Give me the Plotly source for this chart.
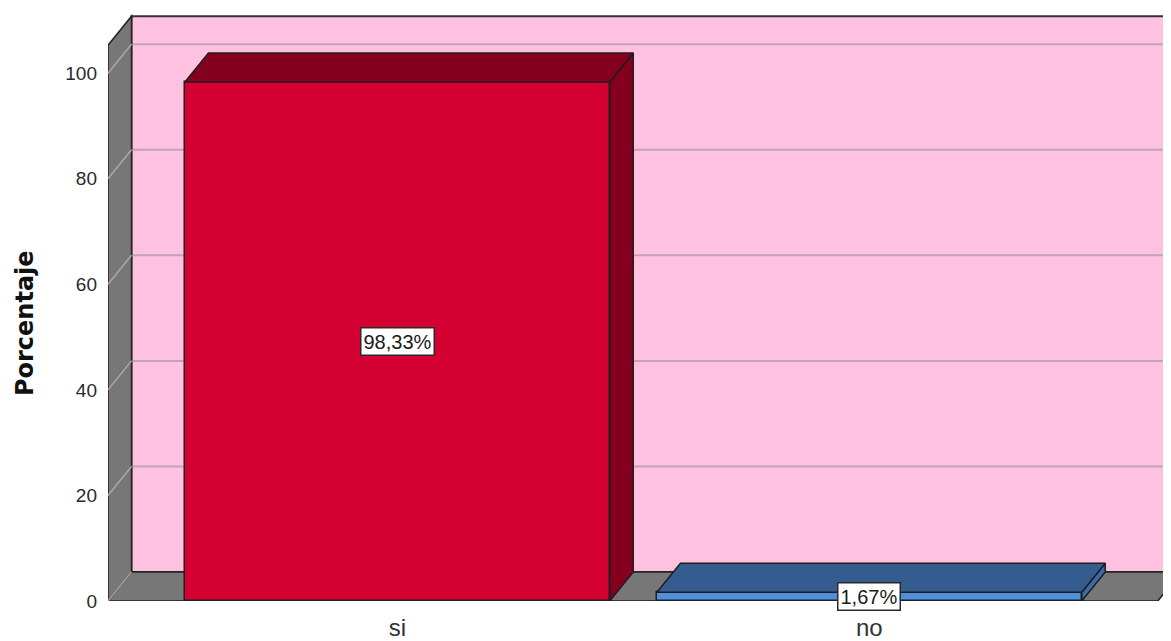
import plotly.graph_objects as go

# ---------------- data ----------------
categories = ["si", "no"]
percent = [98.33, 1.67]
labels = ["98,33%", "1,67%"]
y_ticks = [0, 20, 40, 60, 80, 100]

# ---------------- style / geometry constants ----------------
front_colors = ["#D50032", "#4E8FDE"]
top_colors = ["#85001F", "#345C8E"]
side_colors = ["#85001F", "#3C6BA8"]
edge = "#1E1E1E"
wall_gray = "#777777"
back_pink = "#FFC1E0"
grid_col = "rgba(140,140,150,0.55)"

BAR_W = 0.9
X_LEFT = -0.613      # front-left corner of the box (axis units)
X_RIGHT = 1.611      # front-right corner of the floor
DX = 0.0498          # depth offset, x units
DY = 5.49            # depth offset, y units
Y_TOP = 105.3        # top of the value axis
X_RANGE = [-0.613, 1.656]
Y_RANGE = [0, 111.97]

xs = list(range(len(categories)))

fig = go.Figure()

shapes = []
# back wall
shapes.append(dict(type="rect", xref="x", yref="y", layer="below",
                   x0=X_LEFT + DX, x1=X_RIGHT + DX, y0=DY, y1=Y_TOP + DY,
                   fillcolor=back_pink, line=dict(color="#333333", width=2)))
# floor
shapes.append(dict(type="path", xref="x", yref="y", layer="below",
                   path=f"M{X_LEFT},0 L{X_RIGHT},0 L{X_RIGHT+DX},{DY} L{X_LEFT+DX},{DY} Z",
                   fillcolor=wall_gray, line=dict(color="#222222", width=1.5)))
# left wall
shapes.append(dict(type="path", xref="x", yref="y", layer="below",
                   path=f"M{X_LEFT},0 L{X_LEFT+DX},{DY} L{X_LEFT+DX},{Y_TOP+DY} L{X_LEFT},{Y_TOP} Z",
                   fillcolor=wall_gray, line=dict(color="#222222", width=1.5)))
# grid lines on back wall + diagonals on left wall
for t in y_ticks:
    if t > 0:
        shapes.append(dict(type="line", xref="x", yref="y", layer="below",
                           x0=X_LEFT + DX, x1=X_RIGHT + DX, y0=t + DY, y1=t + DY,
                           line=dict(color=grid_col, width=2)))
    shapes.append(dict(type="line", xref="x", yref="y", layer="below",
                       x0=X_LEFT, x1=X_LEFT + DX, y0=t, y1=t + DY,
                       line=dict(color="#A8A8A8", width=1.5)))

# bar side and top faces
for i, v in enumerate(percent):
    x0 = xs[i] - BAR_W / 2
    x1 = xs[i] + BAR_W / 2
    fig.add_trace(go.Scatter(
        x=[x1, x1 + DX, x1 + DX, x1, x1], y=[0, DY, v + DY, v, 0],
        mode="lines", fill="toself", fillcolor=side_colors[i],
        line=dict(color=edge, width=1.5), hoverinfo="skip", showlegend=False))
    fig.add_trace(go.Scatter(
        x=[x0, x1, x1 + DX, x0 + DX, x0], y=[v, v, v + DY, v + DY, v],
        mode="lines", fill="toself", fillcolor=top_colors[i],
        line=dict(color=edge, width=1.5), hoverinfo="skip", showlegend=False))

# front faces
fig.add_trace(go.Bar(
    x=xs, y=percent, width=BAR_W, base=0,
    marker=dict(color=front_colors, line=dict(color=edge, width=1.5)),
    showlegend=False, hoverinfo="skip"))

annotations = []
for i, v in enumerate(percent):
    annotations.append(dict(
        x=xs[i], y=v / 2, xref="x", yref="y", text=labels[i], showarrow=False,
        font=dict(family="Liberation Sans, Arial, sans-serif", size=20, color="#1A1A1A"),
        bgcolor="white", bordercolor="#2A2A2A", borderwidth=1.5, borderpad=2))

annotations.append(dict(
    x=0, xref="paper", xanchor="center", xshift=-83,
    y=Y_TOP / 2, yref="y", yanchor="middle",
    text="<b>Porcentaje</b>", textangle=-90, showarrow=False,
    font=dict(family="DejaVu Sans, sans-serif", size=24, color="#111111")))

fig.update_layout(
    width=1171, height=641,
    margin=dict(l=100, r=0, t=2, b=48),
    paper_bgcolor="white", plot_bgcolor="white",
    shapes=shapes, annotations=annotations,
    xaxis=dict(range=X_RANGE, tickvals=xs, ticktext=categories,
               showgrid=False, zeroline=False, showline=False, ticks="",
               tickfont=dict(family="Liberation Sans, Arial, sans-serif", size=24, color="#333333"),
               ticklabelstandoff=10),
    yaxis=dict(range=Y_RANGE, tickvals=y_ticks, ticktext=[str(t) for t in y_ticks],
               showgrid=False, zeroline=False, showline=False, ticks="",
               tickfont=dict(family="Liberation Sans, Arial, sans-serif", size=19, color="#2A2A2A"),
               ticklabelstandoff=10),
    bargap=0,
)

fig.write_html("out.html")
